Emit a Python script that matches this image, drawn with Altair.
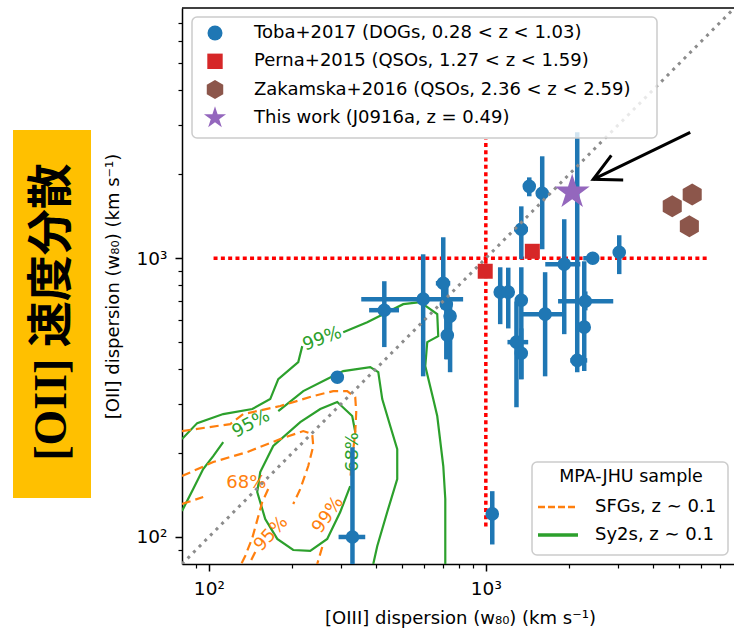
import altair as alt
import numpy as np
import pandas as pd

# ---------------- axes ----------------
x_domain = [80, 7870]
y_domain = [80, 7900]
major_ticks = [100, 1000]
minor_ticks = [90, 200, 300, 400, 500, 600, 700, 800, 900, 2000, 3000, 4000, 5000, 6000, 7000]

# ---------------- Toba+2017 (DOGs) ----------------
toba_x   = [291, 330, 1055, 430, 594, 702, 720, 743, 726, 1127, 1205, 1343, 1637, 1290, 1343, 1919, 2432, 3031, 2286, 2266, 2138, 1435, 1598, 1343]
toba_y   = [374, 100, 121, 651, 713, 813, 684, 620, 529, 756, 756, 707, 630, 500, 456, 952, 1000, 1051, 701, 566, 430, 1811, 1710, 1270]
toba_xlo = [291, 294, 1055, 379, 355, 660, 720, 743, 726, 1127, 1205, 1343, 1343, 1197, 1343, 1639, 2248, 3031, 1823, 2266, 2018, 1435, 1598, 1265]
toba_xhi = [291, 367, 1055, 486, 828, 744, 720, 743, 726, 1127, 1205, 1343, 1905, 1422, 1343, 2193, 2520, 3031, 2884, 2266, 2323, 1435, 1598, 1420]
toba_ylo = [374, 60, 94, 480, 377, 656, 434, 390, 434, 580, 560, 368, 377, 292, 368, 534, 1000, 877, 650, 394, 390, 1668, 1077, 992]
toba_yhi = [374, 210, 146, 827, 1033, 1189, 841, 700, 620, 928, 925, 928, 891, 700, 560, 1380, 1000, 1209, 760, 975, 2829, 1950, 2321, 1535]

# ---------------- other samples ----------------
perna_x = [995, 1472]
perna_y = [898, 1059]
zak_x = [4710, 5560, 5430]
zak_y = [1535, 1694, 1302]
this_x = [2050]
this_y = [1725]

# ---------------- reference lines / annotation ----------------
diag_v = [80, 7900]
ref_v_x = [1000]
ref_v_y = [109, 2670]
ref_h_y = [1000]
ref_h_x = [104, 6410]
arrow_x = [5470, 2442]
arrow_y = [2829, 1919]

# ---------------- MPA-JHU contours (pieces between inline labels) ----------------
sfg68a_x = [80, 95.4]
sfg68a_y = [131.3, 139.1]
sfg68b_x = [163.8, 155.9, 143.5, 135.3, 130.9]
sfg68b_y = [148.6, 133.5, 99.2, 85.5, 80]
sfg95a_x = [80, 103.7, 137.6, 181.1, 219.2, 236.2, 238.2, 228.5, 213.8, 201.7]
sfg95a_y = [165.4, 185.7, 201.7, 224.5, 239.9, 233.9, 212, 179.7, 148.6, 131.3]
sfg95b_x = [147.1, 139.9]
sfg95b_y = [88.4, 80]
sfg99a_x = [80, 119.5, 133.1, 181.1, 238.2, 281.2, 315.9, 337.7, 340.5, 337.7, 329.3, 323.9]
sfg99a_y = [239.9, 254.1, 276, 294.9, 320.2, 333.7, 333.7, 317.6, 280.5, 237.9, 190.3, 161.4]
sfg99b_x = [256.7, 246.2]
sfg99b_y = [92.1, 80]

sy68_x = [323.9, 298.1, 267.5, 232.3, 201.7, 176.6, 159.8, 149.5, 153.3, 170.8, 213.8, 252.5, 290.8, 329.3, 337.7]
sy68_y = [152.3, 122.9, 98.4, 89.1, 89.8, 98.4, 116, 145, 171, 212, 258.3, 287.7, 304.8, 271.5, 237.9]
sy95a_x = [80, 87.8, 95.4, 103.7, 112.7]
sy95a_y = [123.9, 148.6, 175.3, 195.1, 219]
sy95b_x = [178.1, 219.2, 267.5, 305.6, 382.6, 409, 422.7, 451.8, 478.8, 478.8, 440.6, 405.6, 392.3]
sy95b_y = [282.9, 333.7, 368.5, 393.6, 406.8, 390.4, 312.4, 250, 206.7, 161.4, 122.9, 92.8, 80]
sy99a_x = [80, 90.8, 112.7, 143.5, 166.6, 178.1, 210.3, 217.4]
sy99a_y = [224.5, 256.2, 276, 287.7, 312.4, 368.5, 423.9, 483.8]
sy99b_x = [305.6, 373.2, 503.3, 579.8, 667.7, 673.2, 614.5, 604.4, 645.9, 667.7, 702.1, 713.9, 713.9]
sy99b_y = [542.9, 589.7, 684.2, 695.7, 630.1, 525.3, 500, 410.2, 312.4, 271.5, 179.7, 136.8, 80]

sfg_label_text = ["68%", "95%", "99%"]
sfg_label_x = [136.5, 168, 269.8]
sfg_label_y = [156.1, 102.5, 119.9]
sfg_label_angle = [0, 313, 305]
sy_label_text = ["68%", "95%", "99%"]
sy_label_x = [332.1, 142.2, 256.7]
sy_label_y = [201.7, 254.1, 512.6]
sy_label_angle = [270, 332, 340]

legend1_labels = [
    "Toba+2017 (DOGs, 0.28 < z < 1.03)",
    "Perna+2015 (QSOs, 1.27 < z < 1.59)",
    "Zakamska+2016 (QSOs, 2.36 < z < 2.59)",
    "This work (J0916a, z = 0.49)",
]
legend2_title = "MPA-JHU sample"
legend2_labels = ["SFGs, z ∼ 0.1", "Sy2s, z ∼ 0.1"]
x_title = "[OIII] dispersion (w₈₀) (km s⁻¹)"
y_title = "[OII] dispersion (w₈₀) (km s⁻¹)"
box_text = "[OII] 速度分散"

# ---------------- styling ----------------
W, H = 552, 556
FONT = "DejaVu Sans"
BLUE, RED, BROWN, PURPLE = "#1f77b4", "#d62728", "#8c564b", "#9467bd"
ORANGE, GREEN = "#ff7f0e", "#2ca02c"
XS = alt.Scale(type="log", domain=x_domain, nice=False)
YS = alt.Scale(type="log", domain=y_domain, nice=False)

HEX = "M0,-1L0.866,-0.5L0.866,0.5L0,1L-0.866,0.5L-0.866,-0.5Z"
_pts = []
for k in range(10):
    r = 1.0 if k % 2 == 0 else 0.382
    t = -np.pi / 2 + k * np.pi / 5
    _pts.append(f"{r*np.cos(t):.4f},{r*np.sin(t):.4f}")
STAR = "M" + "L".join(_pts) + "Z"
CHEVRON = "M-0.89,-0.454L0,0L-0.89,0.454"


def X(f, axis=None):
    return alt.X(f, type="quantitative", scale=XS, axis=axis)


def Y(f, axis=None):
    return alt.Y(f, type="quantitative", scale=YS, axis=axis)


def seg_df(pieces):
    rows = []
    for sid, (xs, ys) in enumerate(pieces):
        for i, (a, b) in enumerate(zip(xs, ys)):
            rows.append({"x": a, "y": b, "seg": sid, "i": i})
    return pd.DataFrame(rows)


dummy = pd.DataFrame({"d": [0]})
layers = []

# contours
sfg_df = seg_df([(sfg68a_x, sfg68a_y), (sfg68b_x, sfg68b_y), (sfg95a_x, sfg95a_y),
                 (sfg95b_x, sfg95b_y), (sfg99a_x, sfg99a_y), (sfg99b_x, sfg99b_y)])
sy_df = seg_df([(sy68_x, sy68_y), (sy95a_x, sy95a_y), (sy95b_x, sy95b_y),
                (sy99a_x, sy99a_y), (sy99b_x, sy99b_y)])
layers.append(alt.Chart(sy_df).mark_line(color=GREEN, strokeWidth=2.2, clip=True).encode(
    x=X("x"), y=Y("y"), detail="seg:N", order="i:Q"))
layers.append(alt.Chart(sfg_df).mark_line(color=ORANGE, strokeWidth=2.2, strokeDash=[9, 5], clip=True).encode(
    x=X("x"), y=Y("y"), detail="seg:N", order="i:Q"))

for txt, lx, ly, ang in zip(sfg_label_text, sfg_label_x, sfg_label_y, sfg_label_angle):
    layers.append(alt.Chart(pd.DataFrame({"x": [lx], "y": [ly]})).mark_text(
        text=txt, color=ORANGE, fontSize=18, font=FONT, angle=ang, align="center", baseline="middle").encode(
        x=X("x"), y=Y("y")))
for txt, lx, ly, ang in zip(sy_label_text, sy_label_x, sy_label_y, sy_label_angle):
    layers.append(alt.Chart(pd.DataFrame({"x": [lx], "y": [ly]})).mark_text(
        text=txt, color=GREEN, fontSize=18, font=FONT, angle=ang, align="center", baseline="middle").encode(
        x=X("x"), y=Y("y")))

# red reference lines
layers.append(alt.Chart(pd.DataFrame({"x": ref_v_x, "y": [ref_v_y[0]], "y2": [ref_v_y[1]]})).mark_rule(
    color="red", strokeWidth=3.5, strokeDash=[4, 3.3]).encode(x=X("x"), y=Y("y"), y2="y2:Q"))
layers.append(alt.Chart(pd.DataFrame({"x": [ref_h_x[0]], "x2": [ref_h_x[1]], "y": ref_h_y})).mark_rule(
    color="red", strokeWidth=3.5, strokeDash=[4, 3.3]).encode(x=X("x"), x2="x2:Q", y=Y("y")))

# Toba error bars and points
toba_df = pd.DataFrame({"x": toba_x, "y": toba_y, "xlo": toba_xlo, "xhi": toba_xhi,
                        "ylo": toba_ylo, "yhi": toba_yhi})
layers.append(alt.Chart(toba_df).mark_rule(color=BLUE, strokeWidth=4.5, clip=True).encode(
    x=X("xlo"), x2="xhi:Q", y=Y("y")))
layers.append(alt.Chart(toba_df).mark_rule(color=BLUE, strokeWidth=4.5, clip=True).encode(
    x=X("x"), y=Y("ylo"), y2="yhi:Q"))

axis_common = dict(tickColor="black", tickWidth=1.5, domainColor="black", domainWidth=1.5,
                   labelColor="black", labelFont=FONT, labelFontSize=18.5, titleFont=FONT,
                   titleFontSize=18, titleFontWeight="normal", titleColor="black", grid=False,
                   labelFlush=False, labelOverlap=False)
x_axis = alt.Axis(values=major_ticks, labelExpr="datum.value == 100 ? '10²' : '10³'", tickSize=7,
                  labelPadding=8, title=x_title, titleX=278, titleY=54, titleAlign="center",
                  titleBaseline="middle", orient="bottom", **axis_common)
y_axis = alt.Axis(values=major_ticks, labelExpr="datum.value == 100 ? '10²' : '10³'", tickSize=7,
                  labelPadding=8, title=y_title, titleX=-69, titleY=278, titleAngle=270,
                  titleAlign="center", titleBaseline="middle", orient="left", **axis_common)
layers.append(alt.Chart(toba_df).mark_circle(color=BLUE, size=185, opacity=1).encode(
    x=X("x", x_axis), y=Y("y", y_axis)))

# 1:1 line (carries the minor ticks)
x_minor = alt.Axis(values=minor_ticks, labels=False, domain=False, tickSize=4, tickWidth=1.2,
                   tickColor="black", title=None, grid=False, orient="bottom")
y_minor = alt.Axis(values=minor_ticks, labels=False, domain=False, tickSize=4, tickWidth=1.2,
                   tickColor="black", title=None, grid=False, orient="left")
layers.append(alt.Chart(pd.DataFrame({"x": diag_v, "y": diag_v})).mark_line(
    color="#8c8c8c", strokeWidth=3, strokeDash=[3, 5], clip=True).encode(
    x=X("x", x_minor), y=Y("y", y_minor)))

# other samples
layers.append(alt.Chart(pd.DataFrame({"x": perna_x, "y": perna_y})).mark_square(
    color=RED, size=225, opacity=1).encode(x=X("x"), y=Y("y")))
layers.append(alt.Chart(pd.DataFrame({"x": zak_x, "y": zak_y})).mark_point(
    shape=HEX, filled=True, color=BROWN, size=484, opacity=1).encode(x=X("x"), y=Y("y")))
layers.append(alt.Chart(pd.DataFrame({"x": this_x, "y": this_y})).mark_point(
    shape=STAR, filled=True, color=PURPLE, size=1354, opacity=1).encode(x=X("x"), y=Y("y")))

# arrow
def _px(v):
    return np.log10(v / x_domain[0]) / np.log10(x_domain[1] / x_domain[0]) * W


def _py(v):
    return H - np.log10(v / y_domain[0]) / np.log10(y_domain[1] / y_domain[0]) * H


arrow_angle = float(np.degrees(np.arctan2(_py(arrow_y[1]) - _py(arrow_y[0]),
                                          _px(arrow_x[1]) - _px(arrow_x[0]))) % 360)
layers.append(alt.Chart(pd.DataFrame({"x": [arrow_x[0]], "x2": [arrow_x[1]], "y": [arrow_y[0]],
                                      "y2": [arrow_y[1]]})).mark_rule(color="black", strokeWidth=3).encode(
    x=X("x"), x2="x2:Q", y=Y("y"), y2="y2:Q"))
layers.append(alt.Chart(pd.DataFrame({"x": [arrow_x[1]], "y": [arrow_y[1]]})).mark_point(
    shape=CHEVRON, filled=False, color="black", strokeWidth=3, size=3600, angle=arrow_angle,
    opacity=1).encode(x=X("x"), y=Y("y")))

# legend 1 (upper left)
layers.append(alt.Chart(dummy).mark_rect(fill="white", fillOpacity=0.8, stroke="#cccccc",
                                         strokeWidth=1.5, cornerRadius=5).encode(
    x=alt.value(10), x2=alt.value(475), y=alt.value(9), y2=alt.value(130)))
leg1_markers = [("circle", BLUE, 225), ("square", RED, 237), (HEX, BROWN, 361), (STAR, PURPLE, 540)]
for i, ((shp, col, sz), lab) in enumerate(zip(leg1_markers, legend1_labels)):
    yy = 25 + 28.3 * i
    layers.append(alt.Chart(dummy).mark_point(shape=shp, filled=True, color=col, size=sz, opacity=1).encode(
        x=alt.value(33), y=alt.value(yy)))
    layers.append(alt.Chart(dummy).mark_text(text=lab, align="left", baseline="middle", fontSize=18,
                                             font=FONT, color="black").encode(
        x=alt.value(72), y=alt.value(yy)))

# legend 2 (lower right)
layers.append(alt.Chart(dummy).mark_rect(fill="white", fillOpacity=0.8, stroke="#cccccc",
                                         strokeWidth=1.5, cornerRadius=5).encode(
    x=alt.value(350), x2=alt.value(546), y=alt.value(454), y2=alt.value(547)))
layers.append(alt.Chart(dummy).mark_text(text=legend2_title, align="center", baseline="middle",
                                         fontSize=17.5, font=FONT, color="black").encode(
    x=alt.value(449), y=alt.value(469)))
leg2_styles = [(ORANGE, [7, 3], 2.5), (GREEN, [1, 0], 3.5)]
for i, ((col, dash, sw), lab) in enumerate(zip(leg2_styles, legend2_labels)):
    yy = 499 + 28 * i
    layers.append(alt.Chart(dummy).mark_rule(color=col, strokeDash=dash, strokeWidth=sw).encode(
        x=alt.value(356), x2=alt.value(396), y=alt.value(yy)))
    layers.append(alt.Chart(dummy).mark_text(text=lab, align="left", baseline="middle", fontSize=18,
                                             font=FONT, color="black").encode(
        x=alt.value(413), y=alt.value(yy)))

# top spine
layers.append(alt.Chart(dummy).mark_rule(color="black", strokeWidth=1.5).encode(
    x=alt.value(0), x2=alt.value(W), y=alt.value(0)))

# yellow annotation box
layers.append(alt.Chart(dummy).mark_rect(color="#FFC000", opacity=1).encode(
    x=alt.value(-169), x2=alt.value(-91), y=alt.value(122), y2=alt.value(490)))
layers.append(alt.Chart(dummy).mark_text(text=box_text, angle=270, fontSize=46, fontWeight="bold",
                                         font="Liberation Serif, Noto Sans CJK JP", color="black",
                                         align="center", baseline="middle").encode(
    x=alt.value(-130), y=alt.value(304)))

chart = alt.layer(*layers).resolve_axis(x="independent", y="independent").properties(
    width=W, height=H,
    autosize=alt.AutoSizeParams(type="none"),
    padding={"left": 182, "top": 8, "right": 0, "bottom": 65},
    background="white",
).configure_view(stroke=None)

chart.save("out.html", embed_options={"renderer": "svg", "actions": False})
